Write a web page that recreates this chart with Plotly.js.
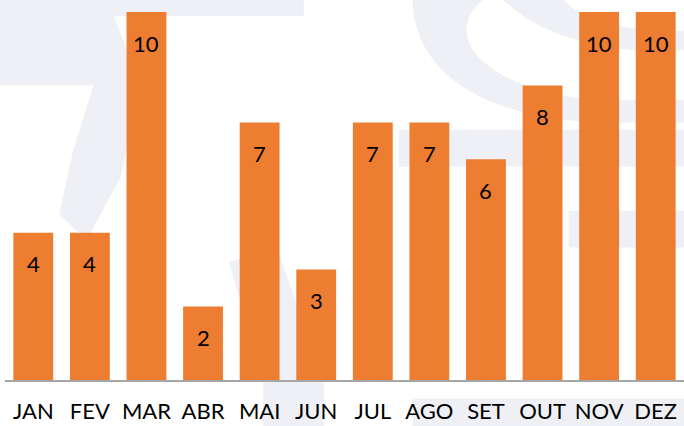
<!DOCTYPE html>
<html>
<head>
<meta charset="utf-8">
<script src="https://cdn.plot.ly/plotly-3.0.1.min.js"></script>
<style>html,body{margin:0;padding:0;background:#fff;}#chart{width:684px;height:426px;}</style>
</head>
<body>
<div id="chart"></div>
<script>
const months = ["JAN","FEV","MAR","ABR","MAI","JUN","JUL","AGO","SET","OUT","NOV","DEZ"];
const values = [4,4,10,2,7,3,7,7,6,8,10,10];

const barColor = "#ED7D31";
const wm = "#EEF0F6";

const annotations = months.map((m, i) => ({
  x: m, y: values[i], xref: "x", yref: "y",
  text: String(values[i]), showarrow: false, yshift: -31,
  font: {family: "Lato, 'Open Sans', sans-serif", size: 22, color: "#000"}
}));

const shapes = [
  {type:"path", xref:"paper", yref:"paper", layer:"below", line:{width:0}, fillcolor:wm,
   path:"M -0.01 1.04 L 0.44 1.04 L 0.44 0.99 L 0.16 0.99 L 0.20 0.80 L 0.17 0.55 L 0.12 0.38 L 0.08 0.45 L 0.10 0.62 L 0.13 0.80 L -0.01 0.80 Z"},
  {type:"path", xref:"paper", yref:"paper", layer:"below", line:{width:0}, fillcolor:wm,
   path:"M 0.60 1.04 C 0.60 0.82 0.72 0.70 0.90 0.70 L 1.01 0.70 L 1.01 0.76 L 0.90 0.76 C 0.78 0.76 0.68 0.85 0.68 0.95 C 0.68 1.00 0.70 1.03 0.71 1.04 Z"},
  {type:"path", xref:"paper", yref:"paper", layer:"below", line:{width:0}, fillcolor:wm,
   path:"M 0.73 1.04 C 0.80 0.90 0.95 0.88 1.01 0.90 L 1.01 0.95 C 0.92 0.94 0.84 0.98 0.82 1.04 Z"},
  {type:"rect", xref:"paper", yref:"paper", layer:"below", line:{width:0}, fillcolor:wm,
   x0:0.58, x1:1.01, y0:0.58, y1:0.68},
  {type:"rect", xref:"paper", yref:"paper", layer:"below", line:{width:0}, fillcolor:wm,
   x0:0.83, x1:1.01, y0:0.36, y1:0.46},
  {type:"path", xref:"paper", yref:"paper", layer:"below", line:{width:0}, fillcolor:wm,
   path:"M 0.33 0.32 L 0.40 0.36 L 0.47 0.00 L 0.47 -0.13 L 0.38 -0.13 L 0.38 0.00 Z"},
  {type:"rect", xref:"paper", yref:"paper", layer:"below", line:{width:0}, fillcolor:wm,
   x0:0.60, x1:1.01, y0:-0.13, y1:-0.05}
];

const data = [{
  type: "bar", x: months, y: values,
  marker: {color: barColor, line: {width: 0}},
  hoverinfo: "none"
}];

const layout = {
  width: 684, height: 426,
  margin: {l: 5, r: 0, t: 12, b: 46},
  paper_bgcolor: "#fff", plot_bgcolor: "rgba(0,0,0,0)",
  bargap: 0.296,
  showlegend: false,
  font: {family: "Lato, 'Open Sans', sans-serif", color: "#000"},
  xaxis: {
    type: "category", showgrid: false, zeroline: false,
    showline: true, linecolor: "#A6A6A6", linewidth: 1.5,
    ticks: "outside", ticklen: 11, tickcolor: "rgba(0,0,0,0)",
    tickfont: {family: "Lato, 'Open Sans', sans-serif", size: 22, color: "#000"},
    range: [-0.5, 11.5]
  },
  yaxis: {range: [0, 10], visible: false, fixedrange: true},
  annotations: annotations,
  shapes: shapes
};

Plotly.newPlot("chart", data, layout, {displayModeBar: false, staticPlot: true});
</script>
</body>
</html>
